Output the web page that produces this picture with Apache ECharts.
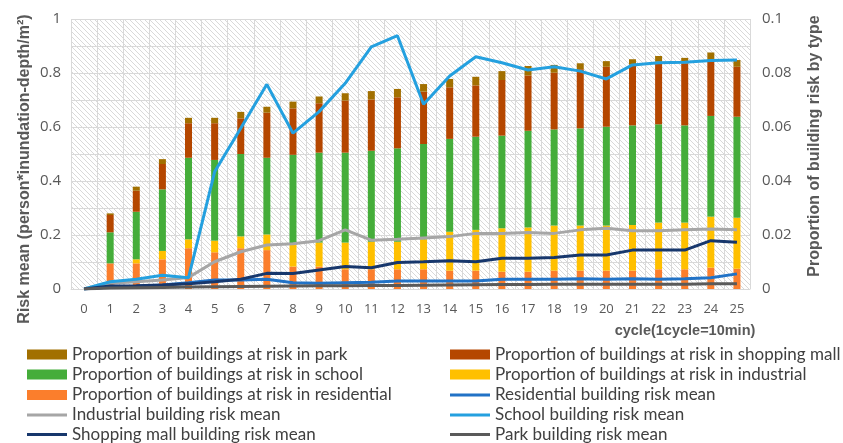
<!DOCTYPE html>
<html>
<head>
<meta charset="utf-8">
<script src="https://cdn.jsdelivr.net/npm/echarts@6/dist/echarts.min.js"></script>
<style>
  html, body { margin: 0; padding: 0; background: #ffffff; }
  #chart { width: 843px; height: 443px; }
</style>
</head>
<body>
<div id="chart"></div>
<script>
// Flood cycles (1 cycle = 10 min)
const cycles = ['0','1','2','3','4','5','6','7','8','9','10','11','12','13','14','15','16','17','18','19','20','21','22','23','24','25'];

// Proportion of buildings at risk, by building type (right axis)
const propResidential = [0, .0095, .0095, .011, .0151, .0136, .0151, .0144, .0083, .0083, .0073, .0073, .0073, .0073, .0068, .0068, .0064, .0064, .0068, .0068, .0068, .0068, .0073, .0073, .0079, .0075];
const propIndustrial  = [0, 0, .0015, .0031, .0033, .0043, .0044, .0058, .008, .0089, .0099, .0102, .0102, .0111, .0144, .0151, .0161, .0164, .0167, .0167, .0167, .0169, .0173, .0173, .0189, .0189];
const propSchool      = [0, .0115, .0176, .0228, .0302, .0299, .0305, .0284, .0334, .0333, .0333, .0337, .0346, .0353, .0344, .0345, .0343, .0358, .0356, .036, .0366, .0369, .0364, .036, .0373, .0374];
const propMall        = [0, .0064, .0078, .0094, .0128, .0136, .0132, .0167, .0172, .0183, .0193, .019, .0189, .0194, .0191, .019, .0206, .0205, .021, .0219, .0222, .0226, .0232, .023, .0207, .0185];
const propPark        = [0, .0006, .0015, .0018, .002, .002, .0024, .0022, .0025, .0025, .0027, .0031, .0031, .0028, .0031, .0032, .0033, .0035, .0029, .0022, .0021, .0019, .0021, .002, .0028, .0025];

// Mean risk per building type (left axis)
const meanResidential = [0, .007, .01, .015, .023, .033, .033, .036, .023, .021, .023, .025, .03, .03, .03, .03, .036, .036, .036, .038, .036, .038, .036, .038, .042, .056];
const meanIndustrial  = [0, .021, .027, .033, .043, .101, .138, .163, .168, .179, .219, .181, .184, .189, .194, .206, .206, .209, .206, .219, .225, .216, .216, .219, .222, .219];
const meanSchool      = [0, .027, .036, .051, .042, .434, .595, .758, .577, .657, .762, .897, .938, .684, .789, .86, .838, .811, .823, .807, .778, .83, .838, .84, .846, .848];
const meanMall        = [0, .011, .012, .015, .019, .027, .036, .058, .057, .07, .083, .079, .098, .101, .105, .101, .114, .114, .117, .126, .126, .144, .144, .144, .179, .173];
const meanPark        = [0, .004, .005, .006, .007, .008, .009, .010, .011, .012, .012, .013, .013, .014, .015, .016, .017, .017, .018, .018, .018, .018, .018, .018, .019, .019];

// Legend entries, laid out in two columns
const legendLeft = [
  'Proportion of buildings at risk in park',
  'Proportion of buildings at risk in school',
  'Proportion of buildings at risk in residential',
  'Industrial building risk mean',
  'Shopping mall building risk mean'
];
const legendRight = [
  'Proportion of buildings at risk in shopping mall',
  'Proportion of buildings at risk in industrial',
  'Residential building risk mean',
  'School building risk mean',
  'Park building risk mean'
];

// Diagonal hatch used as the plot background
function hatchPattern() {
  const s = 5;
  const c = document.createElement('canvas');
  c.width = s; c.height = s;
  const g = c.getContext('2d');
  g.fillStyle = '#ffffff';
  g.fillRect(0, 0, s, s);
  g.strokeStyle = '#d9d9d9';
  g.lineWidth = 1;
  g.beginPath();
  g.moveTo(-1, -1); g.lineTo(s + 1, s + 1);
  g.moveTo(-1, s - 1); g.lineTo(1, s + 1);
  g.moveTo(s - 1, -1); g.lineTo(s + 1, 1);
  g.stroke();
  return { image: c, repeat: 'repeat' };
}

const labelColor = '#595959';
const legendFont = { fontFamily: 'Lato', fontSize: 17, color: '#404040', lineHeight: 14 };
const lineIcon = 'path://M0 0H40V3H0Z';
const rowCenters = [353, 373, 393.5, 413.5, 433];

// One single-entry legend per row keeps the two columns aligned
function legendRows(names, left) {
  return names.map((name, i) => ({
    orient: 'horizontal', left, top: rowCenters[i] - 7,
    itemWidth: 40, itemHeight: 10, itemGap: 0, padding: 0,
    textStyle: legendFont,
    data: [{ name, icon: name.startsWith('Proportion') ? 'rect' : lineIcon }]
  }));
}

const barSeries = (name, data, color) => ({
  name, type: 'bar', data, stack: 'share', yAxisIndex: 1,
  barWidth: 7, itemStyle: { color }, z: 2
});
const lineSeries = (name, data, color) => ({
  name, type: 'line', data, yAxisIndex: 0,
  symbol: 'none', lineStyle: { color, width: 3 }, itemStyle: { color }, z: 3
});

const chart = echarts.init(document.getElementById('chart'), null, { renderer: 'canvas' });
chart.setOption({
  animation: false,
  backgroundColor: '#ffffff',
  grid: {
    left: 71, right: 93, top: 19, bottom: 154,
    show: true, backgroundColor: hatchPattern(), borderWidth: 0
  },
  xAxis: {
    type: 'category', data: cycles, boundaryGap: true,
    axisLine: { show: true, lineStyle: { color: '#d9d9d9' } },
    axisTick: { show: false },
    axisLabel: { color: labelColor, fontFamily: 'Open Sans', fontSize: 13, margin: 14, interval: 0 },
    splitLine: { show: true, interval: 0, lineStyle: { color: '#d9d9d9', width: 1 } }
  },
  yAxis: [
    {
      type: 'value', min: 0, max: 1, interval: 0.1,
      axisLine: { show: false }, axisTick: { show: false },
      axisLabel: {
        color: labelColor, fontFamily: 'Open Sans', fontSize: 15, margin: 10,
        formatter: v => (Math.round(v * 10) % 2 === 0 ? String(+v.toFixed(1)) : '')
      },
      splitLine: { show: true, lineStyle: { color: '#d9d9d9', width: 1 } }
    },
    {
      type: 'value', min: 0, max: 0.1, interval: 0.02,
      axisLine: { show: false }, axisTick: { show: false },
      axisLabel: {
        color: labelColor, fontFamily: 'Open Sans', fontSize: 15, margin: 12,
        formatter: v => String(+v.toFixed(2))
      },
      splitLine: { show: false }
    }
  ],
  legend: legendRows(legendLeft, 27).concat(legendRows(legendRight, 450)),
  graphic: [
    {
      type: 'text', x: 25, y: 169, rotation: Math.PI / 2,
      style: {
        text: 'Risk mean (person*inundation-depth/m²)', fill: labelColor,
        font: 'bold 16px "Liberation Sans", Arial, sans-serif',
        textAlign: 'center', textVerticalAlign: 'middle'
      }
    },
    {
      type: 'text', x: 815, y: 146, rotation: Math.PI / 2,
      style: {
        text: 'Proportion of building risk by type', fill: labelColor,
        font: 'bold 16px "Liberation Sans", Arial, sans-serif',
        textAlign: 'center', textVerticalAlign: 'middle'
      }
    },
    {
      type: 'text', x: 685, y: 331,
      style: {
        text: 'cycle(1cycle=10min)', fill: labelColor,
        font: 'bold 14.5px "Liberation Sans", Arial, sans-serif',
        textAlign: 'center', textVerticalAlign: 'middle'
      }
    }
  ],
  series: [
    barSeries('Proportion of buildings at risk in residential', propResidential, '#FB7E2C'),
    barSeries('Proportion of buildings at risk in industrial', propIndustrial, '#FFC000'),
    barSeries('Proportion of buildings at risk in school', propSchool, '#45AD3A'),
    barSeries('Proportion of buildings at risk in shopping mall', propMall, '#B54700'),
    barSeries('Proportion of buildings at risk in park', propPark, '#A27000'),
    lineSeries('Residential building risk mean', meanResidential, '#2172C6'),
    lineSeries('Industrial building risk mean', meanIndustrial, '#A6A6A6'),
    lineSeries('School building risk mean', meanSchool, '#24A0DF'),
    lineSeries('Shopping mall building risk mean', meanMall, '#17376C'),
    lineSeries('Park building risk mean', meanPark, '#5A5A5A')
  ]
});
</script>
</body>
</html>
